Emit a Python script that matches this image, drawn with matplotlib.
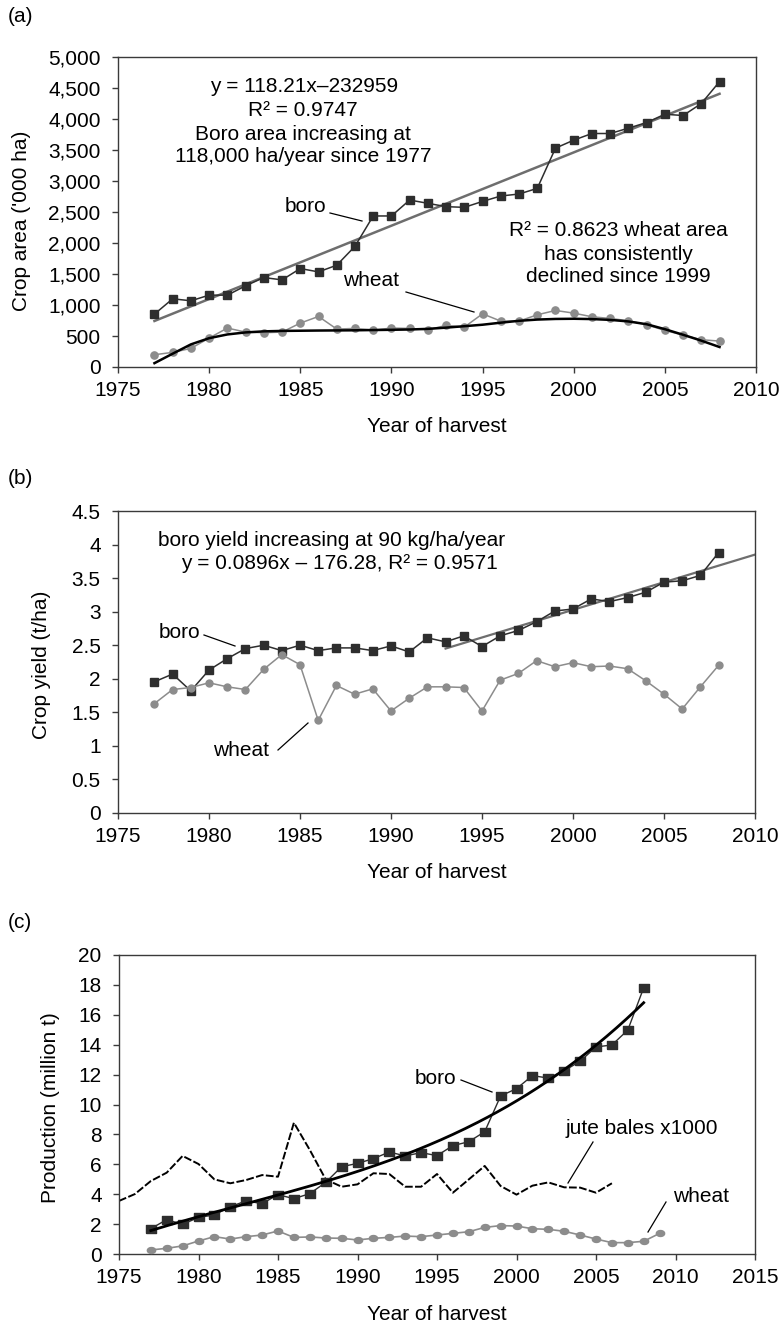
import numpy as np
import matplotlib
matplotlib.use("Agg")
import matplotlib.pyplot as plt
from matplotlib.lines import Line2D
from matplotlib.path import Path

plt.rcParams['font.family'] = ['Liberation Sans', 'DejaVu Sans']

# ---------------- data ----------------
years_a = list(range(1977, 2009))
boro_area = [853, 1100, 1068, 1159, 1159, 1309, 1443, 1405, 1588, 1534, 1642, 1947,
             2436, 2436, 2693, 2640, 2586, 2575, 2671, 2758, 2790, 2881, 3530, 3659,
             3766, 3766, 3852, 3943, 4077, 4056, 4249, 4603]
wheat_area = [198, 236, 300, 467, 628, 563, 553, 563, 708, 815, 612, 622, 595, 628,
              622, 601, 671, 644, 858, 740, 740, 842, 912, 869, 810, 783, 746, 681,
              590, 515, 440, 418]
# polynomial trend of wheat area as drawn in the source
wheat_area_trend = [62, 215, 365, 465, 525, 558, 575, 582, 585, 588, 590, 592, 596, 600,
                    605, 615, 635, 658, 682, 715, 745, 765, 775, 778, 773, 760, 735, 690,
                    610, 520, 425, 322]
boro_area_slope = 118.21
boro_area_intercept = -232959

years_b = list(range(1977, 2009))
boro_yield = [1.955, 2.07, 1.82, 2.13, 2.30, 2.45, 2.50, 2.42, 2.50, 2.42, 2.46, 2.46,
              2.42, 2.49, 2.40, 2.61, 2.55, 2.64, 2.48, 2.64, 2.72, 2.85, 3.01, 3.04,
              3.19, 3.15, 3.21, 3.29, 3.44, 3.46, 3.54, 3.88]
wheat_yield = [1.63, 1.84, 1.87, 1.94, 1.88, 1.84, 2.14, 2.36, 2.21, 1.38, 1.90, 1.77,
               1.85, 1.52, 1.71, 1.88, 1.88, 1.87, 1.52, 1.98, 2.08, 2.27, 2.18, 2.24,
               2.18, 2.19, 2.15, 1.97, 1.77, 1.55, 1.88, 2.20]
yield_trend_start = 1993
yield_trend_end = 2010

years_boro_c = list(range(1977, 2009))
boro_prod = [1.69, 2.30, 1.98, 2.45, 2.61, 3.17, 3.55, 3.37, 3.97, 3.70, 4.04, 4.79,
             5.84, 6.06, 6.38, 6.82, 6.56, 6.78, 6.58, 7.25, 7.51, 8.18, 10.57, 11.06,
             11.93, 11.77, 12.26, 12.89, 13.85, 13.98, 14.98, 17.81]
# boro production trend curve as drawn in the source
boro_trend_years = [1977, 1980, 1985, 1988, 1990, 1992, 1998, 2000, 2003, 2005, 2007, 2008]
boro_trend_vals = [1.65, 2.4, 3.85, 4.8, 5.6, 6.5, 8.85, 10.3, 12.3, 13.9, 15.9, 16.8]
years_jute = list(range(1975, 2007))
jute_bales = [3.55, 4.01, 4.88, 5.44, 6.56, 6.02, 4.99, 4.73, 4.95, 5.28, 5.17, 8.78,
              6.96, 4.99, 4.50, 4.66, 5.40, 5.35, 4.50, 4.50, 5.35, 4.10, 4.99, 5.89,
              4.55, 3.97, 4.57, 4.79, 4.46, 4.44, 4.10, 4.73]
years_wheat_c = list(range(1977, 2010))
wheat_prod = [0.27, 0.38, 0.54, 0.87, 1.16, 1.00, 1.16, 1.27, 1.54, 1.11, 1.14, 1.07,
              1.05, 0.94, 1.05, 1.11, 1.20, 1.16, 1.27, 1.38, 1.49, 1.78, 1.90, 1.87,
              1.69, 1.65, 1.52, 1.27, 1.00, 0.76, 0.76, 0.85, 1.38]

# ---------------- figure ----------------
W, H = 782, 1326
fig = plt.figure(figsize=(W / 100, H / 100), dpi=100)
FS = 15
DARK = '#2e2e2e'
GREY = '#8c8c8c'
TREND_GREY = '#6e6e6e'


def add_axes(left, top, right, bottom):
    ax = fig.add_axes([left / W, 1 - bottom / H, (right - left) / W, (bottom - top) / H])
    for s in ax.spines.values():
        s.set_color('#3a3a3a')
        s.set_linewidth(1.0)
    ax.tick_params(axis='both', direction='out', length=4.5, width=1.0,
                   colors='#3a3a3a', labelcolor='black', labelsize=FS)
    ax.tick_params(axis='y', pad=8)
    ax.tick_params(axis='x', pad=5.5)
    return ax


def ftext(px, py, s, ha='center', **kw):
    fig.text(px / W, 1 - py / H, s, ha=ha, va='center', fontsize=FS, **kw)


def fline(x0, y0, x1, y1):
    fig.add_artist(Line2D([x0 / W, x1 / W], [1 - y0 / H, 1 - y1 / H],
                          color='black', lw=0.9, transform=fig.transFigure))


# ----- panel (a) -----
axa = add_axes(118, 57, 756, 367)
xa = np.array(years_a)
axa.plot(xa, boro_area_slope * xa + boro_area_intercept, color=TREND_GREY, lw=1.8, zorder=2)
axa.plot(xa, boro_area, color=DARK, lw=1.1, marker='s', ms=5.2, mfc=DARK, mec=DARK, zorder=3)
axa.plot(xa, wheat_area, color=GREY, lw=1.1, marker='o', ms=5.2, mfc=GREY, mec=GREY, zorder=3)
axa.plot(xa, wheat_area_trend, color='black', lw=1.8, zorder=4)
axa.set_xlim(1975, 2010)
axa.set_ylim(0, 5000)
axa.set_xticks(range(1975, 2011, 5))
axa.set_yticks(range(0, 5001, 500))
axa.set_yticklabels([f'{v:,}' for v in range(0, 5001, 500)])

ftext(304, 87, 'y = 118.21x\u2013232959')
ftext(303, 110, 'R\u00b2 = 0.9747')
ftext(303, 134, 'Boro area increasing at')
ftext(303, 157, '118,000 ha/year since 1977')
ftext(305, 207, 'boro')
fline(330, 213, 362, 221)
ftext(371, 281, 'wheat')
fline(406, 292, 474, 312)
ftext(618, 230, 'R\u00b2 = 0.8623 wheat area')
ftext(618, 254, 'has consistently')
ftext(618, 277, 'declined since 1999')
ftext(8, 17, '(a)', ha='left')
ftext(22, 221, "Crop area ('000 ha)", rotation=90)
ftext(437, 427, 'Year of harvest')

# ----- panel (b) -----
axb = add_axes(118, 511, 755, 813)
xb = np.array(years_b)
axb.plot(xb, boro_yield, color=DARK, lw=1.1, marker='s', ms=5.4, mfc=DARK, mec=DARK, zorder=3)
axb.plot(xb, wheat_yield, color=GREY, lw=1.1, marker='o', ms=5.0, mfc=GREY, mec=GREY, zorder=3)
sel = xb >= yield_trend_start
cb = np.polyfit(xb[sel], np.array(boro_yield)[sel], 1)
xt = np.array([yield_trend_start, yield_trend_end])
axb.plot(xt, np.polyval(cb, xt), color=TREND_GREY, lw=1.6, zorder=2)
axb.set_xlim(1975, 2010)
axb.set_ylim(0, 4.5)
axb.set_xticks(range(1975, 2011, 5))
axb.set_yticks(np.arange(0, 4.51, 0.5))
axb.set_yticklabels(['0', '0.5', '1', '1.5', '2', '2.5', '3', '3.5', '4', '4.5'])

ftext(332, 540, 'boro yield increasing at 90 kg/ha/year')
ftext(339, 563, 'y = 0.0896x \u2013 176.28, R\u00b2 = 0.9571')
ftext(179, 632, 'boro')
fline(204, 635, 235, 646)
ftext(241, 750, 'wheat')
fline(278, 750, 308, 723)
ftext(8, 478, '(b)', ha='left')
ftext(42, 665, 'Crop yield (t/ha)', rotation=90)
ftext(437, 872, 'Year of harvest')

# ----- panel (c) -----
axc = add_axes(119, 955, 755, 1254)
rect = Path([(-1.35, -1), (1.35, -1), (1.35, 1), (-1.35, 1), (-1.35, -1)])
t = np.linspace(0, 2 * np.pi, 40)
ellipse = Path(np.column_stack([1.4 * np.cos(t), np.sin(t)]))
xc = np.array(years_boro_c)
axc.plot(xc, boro_prod, color=DARK, lw=1.0, marker=rect, ms=7.4, mfc=DARK, mec=DARK, zorder=3)
ct = np.polyfit(np.array(boro_trend_years) - 1977, boro_trend_vals, 3)
xs = np.linspace(1977, 2008, 200)
axc.plot(xs, np.polyval(ct, xs - 1977), color='black', lw=2.0, zorder=4)
axc.plot(years_jute, jute_bales, color='black', lw=1.4, ls=(0, (4, 1.2)), zorder=2)
axc.plot(years_wheat_c, wheat_prod, color=GREY, lw=1.2, marker=ellipse, ms=6.0,
         mfc=GREY, mec=GREY, zorder=3)
axc.set_xlim(1975, 2015)
axc.set_ylim(0, 20)
axc.set_xticks(range(1975, 2016, 5))
axc.set_yticks(range(0, 21, 2))

ftext(435, 1078, 'boro')
fline(461, 1080, 492, 1092)
ftext(642, 1128, 'jute bales x1000')
fline(593, 1142, 568, 1183)
ftext(701, 1197, 'wheat')
fline(666, 1202, 648, 1232)
ftext(8, 923, '(c)', ha='left')
ftext(51, 1108, 'Production (million t)', rotation=90)
ftext(437, 1315, 'Year of harvest')

fig.savefig('out.png', dpi=100)
